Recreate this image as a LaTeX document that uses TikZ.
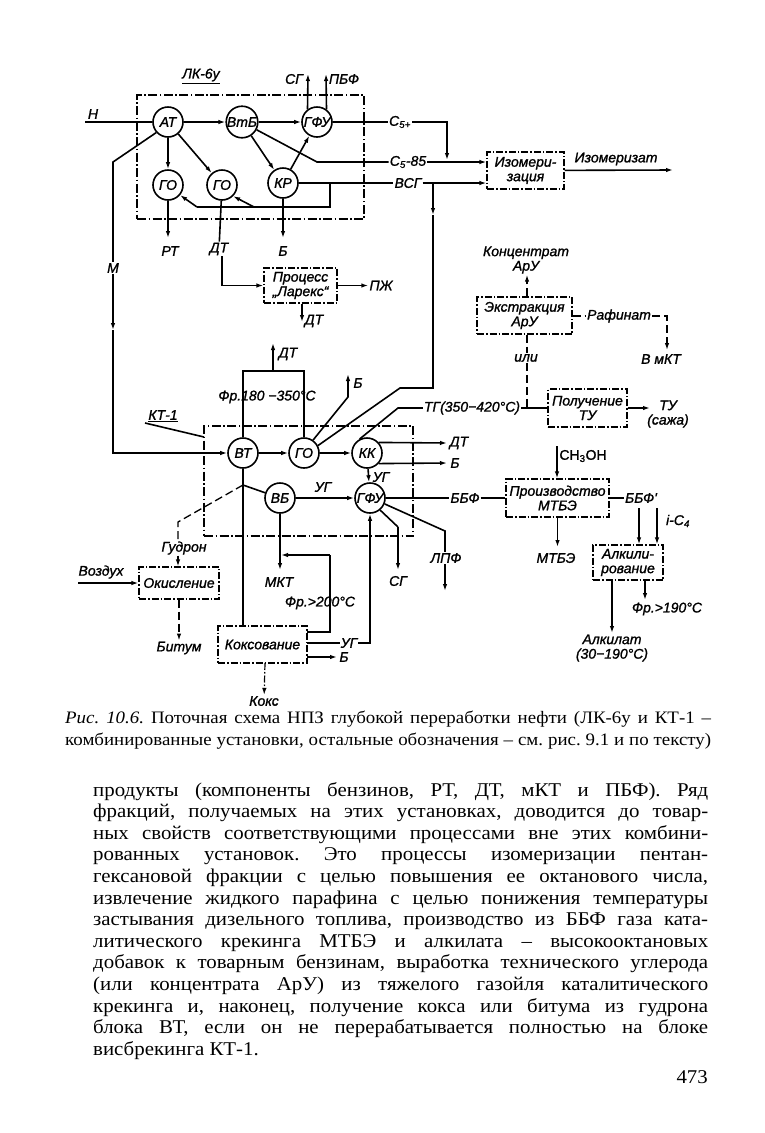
\documentclass[tikz,border=0pt]{standalone}
\usepackage{fontspec}
\setmainfont{Liberation Serif}
\newfontfamily\bodyface{Liberation Serif}[FakeStretch=1.07]
\newfontfamily\capface{Liberation Serif}[FakeStretch=1.08]
\newfontfamily\dfont{Liberation Sans}[FakeBold=1.2]
\usetikzlibrary{arrows.meta,calc}
\frenchspacing
\newcommand\dlbl{\dfont\itshape\fontsize{14}{14.5}\selectfont}
\newcommand\bodyfont{\bodyface\fontsize{19.5}{21.6}\selectfont}
\newcommand\capfont{\capface\fontsize{17.5}{21}\selectfont}
\newcommand\bodyln[3]{\node[anchor=base west,inner sep=0pt] (#1) at (93,#2) {\bodyfont\makebox[615pt][s]{#3}};}
\begin{document}
\begin{tikzpicture}[x=1pt,y=-1pt,
 ln/.style={line width=1.6pt},
 arr/.style={line width=1.6pt,-{Latex[length=7pt,width=4.5pt]}},
 ddl/.style={line width=1.2pt,dash pattern=on 7pt off 2pt on 1.5pt off 2pt},
 dda/.style={ddl,-{Latex[length=7pt,width=4.5pt]}},
 dsh/.style={line width=1.3pt,dash pattern=on 8pt off 4pt},
 dsha/.style={dsh,-{Latex[length=7pt,width=4.5pt]}},
 unit/.style={circle,draw,line width=1.6pt,minimum size=30pt,inner sep=0pt,font=\dlbl},
 proc/.style={draw,ddl,inner sep=1pt,align=center,font=\dlbl},
 bigframe/.style={draw,line width=1.2pt,dash pattern=on 9pt off 2.5pt on 1.5pt off 2.5pt,inner sep=0pt},
 lbl/.style={font=\dlbl,inner sep=1pt,align=center}]
\fill[white] (0,0) rectangle (764,1133);
\useasboundingbox (0,0) rectangle (764,1133);

% ---------- frames
\node[bigframe,minimum width=227pt,minimum height=124pt] (LK) at (250.5,157) {};
\node[bigframe,minimum width=209pt,minimum height=110pt] (KT) at (308.5,481) {};

% ---------- units
\node[unit] (AT) at (168,122) {АТ};
\node[unit] (VtB) at (242,122) {ВтБ};
\node[unit] (GFUa) at (317,122) {ГФУ};
\node[unit] (GOa) at (168,185) {ГО};
\node[unit] (GOb) at (222,185) {ГО};
\node[unit] (KR) at (283,183) {КР};
\node[unit] (VT) at (243,453) {ВТ};
\node[unit] (GOc) at (304,453) {ГО};
\node[unit] (KK) at (367,453) {КК};
\node[unit] (VB) at (280,498) {ВБ};
\node[unit] (GFUb) at (370,498) {ГФУ};

% ---------- process boxes
\node[proc,minimum width=77pt,minimum height=37pt] (izo) at (525.5,170.5) {Изомери-\\зация};
\node[proc,minimum width=73pt,minimum height=35pt] (lar) at (300.5,285.5) {Процесс\\„Ларекс“};
\node[proc,minimum width=95pt,minimum height=37pt] (ext) at (524.5,315.5) {Экстракция\\АрУ};
\node[proc,minimum width=79pt,minimum height=38pt] (tu) at (587.5,408) {Получение\\ТУ};
\node[proc,minimum width=103pt,minimum height=38pt] (mtbe) at (557.5,498) {Производство\\МТБЭ};
\node[proc,minimum width=70pt,minimum height=35pt] (alk) at (628,562.5) {Алкили-\\рование};
\node[proc,minimum width=80pt,minimum height=32pt] (oxi) at (179,583) {Окисление};
\node[proc,minimum width=89pt,minimum height=37pt] (cok) at (262.5,644.5) {Коксование};

% ---------- labels
\node[lbl] (lkl) at (201,76) {\underline{ЛК-6у}};
\node[lbl] (nlbl) at (93,114) {Н};
\node[lbl] (sgl) at (294,79) {СГ};
\node[lbl] (pbfl) at (344,79) {ПБФ};
\node[lbl] (c5p) at (400,122) {C\textsubscript{5+}};
\node[lbl] (c85) at (408,162) {C\textsubscript{5}-85};
\node[lbl] (vsg) at (408,183) {ВСГ};
\node[lbl] (izol) at (616,159) {Изомеризат};
\node[lbl] (rt) at (170,251) {РТ};
\node[lbl] (dta) at (219,249) {ДТ};
\node[lbl] (bk) at (283,251) {Б};
\node[lbl] (ml) at (113,268) {М};
\node[lbl] (pzh) at (381,285.5) {ПЖ};
\node[lbl] (dtb) at (314,321) {ДТ};
\node[lbl] (dtul) at (288,354) {ДТ};
\node[lbl] (fr) at (267,397) {Фр.180 −350°С};
\node[lbl] (bgl) at (358,383) {Б};
\node[lbl] (ktl) at (163,416) {\underline{КТ-1}};
\node[lbl] (tg) at (472,408) {ТГ(350−420°С)};
\node[lbl] (konc) at (526,260) {Концентрат\\АрУ};
\node[lbl] (ili) at (526,358) {или};
\node[lbl] (raf) at (619,316) {Рафинат};
\node[lbl] (vmkt) at (661,359) {В мКТ};
\node[lbl] (tul) at (668,414) {ТУ\\(сажа)};
\node[lbl] (kkdl) at (459,443) {ДТ};
\node[lbl] (kkbl) at (455,463) {Б};
\node[lbl] (uga) at (381,477) {УГ};
\node[lbl] (ugb) at (323,487) {УГ};
\node[lbl] (bbf) at (465,498) {ББФ};
\node[lbl,font=\dfont\fontsize{14}{14.5}\selectfont] (chl) at (583,456) {СН\textsubscript{3}ОН};
\node[lbl] (bbfp) at (641,498) {ББФ'};
\node[lbl] (icl) at (678,521) {i-C\textsubscript{4}};
\node[lbl] (mtbel) at (556,558) {МТБЭ};
\node[lbl] (alkl) at (612,648) {Алкилат\\(30−190°С)};
\node[lbl] (f190) at (667,609) {Фр.>190°С};
\node[lbl] (sgbl) at (398,581) {СГ};
\node[lbl] (lpf) at (446,558) {ЛПФ};
\node[lbl] (gudron) at (184,548) {Гудрон};
\node[lbl] (vozd) at (101,572) {Воздух};
\node[lbl] (bitum) at (179,648) {Битум};
\node[lbl] (mkt) at (279,582) {МКТ};
\node[lbl] (f200) at (320,603) {Фр.>200°С};
\node[lbl] (ugc) at (349,643) {УГ};
\node[lbl] (cbl) at (344,657) {Б};
\node[lbl] (koks) at (264,701) {Кокс};

% ---------- coordinates
\coordinate (nin) at (85,122);
\coordinate (sgt) at (308,74);
\coordinate (pbt) at (326,74);
\coordinate (c5c) at (447,122);
\coordinate (c5e) at (447,160);
\coordinate (c85a) at (317,162);
\coordinate (vsgj) at (433,183);
\coordinate (vsgm) at (433,215);
\coordinate (vsgc) at (433,388);
\coordinate (vsgd) at (400,388);
\coordinate (rca) at (330,183);
\coordinate (rcb) at (330,207);
\coordinate (rcc) at (197,207);
\coordinate (rcd) at (254,207);
\coordinate (rte) at (168,238);
\coordinate (bke) at (283,238);
\coordinate (mb) at (113,162);
\coordinate (mm) at (113,330);
\coordinate (dtbe) at (302,322);
\coordinate (bra) at (243,371);
\coordinate (brb) at (304,371);
\coordinate (dtu0) at (273,371);
\coordinate (dtu) at (273,343);
\coordinate (bga) at (348,397);
\coordinate (bgb) at (348,374);
\coordinate (ktla) at (145,423);
\coordinate (ktlb) at (204,437);
\coordinate (tga) at (398,408);
\coordinate (tgj) at (527,408);
\coordinate (rafc) at (667,316);
\coordinate (rafe) at (667,350);
\coordinate (tue) at (650,408);
\coordinate (kkd) at (447,443);
\coordinate (kkb) at (447,463);
\coordinate (ch) at (557,446);
\coordinate (bpa) at (639,508);
\coordinate (ica) at (657,508);
\coordinate (mtbeo) at (557.5,547);
\coordinate (alka) at (612,580);
\coordinate (alke) at (612,633);
\coordinate (f190a) at (645,580);
\coordinate (f190e) at (645,600);
\coordinate (sgb1) at (398,527);
\coordinate (sgb2) at (398,570);
\coordinate (lpa) at (445,531);
\coordinate (lpe) at (445,591);
\coordinate (tj) at (243,485);
\coordinate (gda) at (178,522);
\coordinate (vza) at (78,583);
\coordinate (mkte) at (280,570);
\coordinate (f2a) at (307,632);
\coordinate (f2b) at (330,632);
\coordinate (f2c) at (330,555);
\coordinate (f2d) at (281,555);
\coordinate (uga1) at (307,643);
\coordinate (cba) at (307,657);
\coordinate (cbe) at (337,657);
\coordinate (koa) at (265,663);
\coordinate (izoe) at (673,170);

% ---------- LK-6u connectors
\draw[ln] (nin) -- (AT);
\draw[arr] (AT) -- (VtB);
\draw[arr] (VtB) -- (GFUa);
\draw[arr] (AT) -- (GOa);
\draw[arr] (AT) -- (GOb);
\draw[arr] (VtB) -- (KR);
\draw[arr] (KR) -- (GFUa);
\draw[arr] (GFUa.127) -- (sgt);
\draw[arr] (GFUa.53) -- (pbt);
\draw[ln] (GFUa) -- (c5p);
\draw[arr] (c5p) -- (c5c) -- (c5e);
\draw[ln] (VtB.-28) -- (c85a) -- (c85);
\draw[arr] (c85) -- (c85 -| izo.west);
\draw[ln] (KR) -- (vsg);
\draw[arr] (vsg) -- (vsg -| izo.west);
\draw[arr] (vsgj) -- (vsgm);
\draw[ln] (vsgm) -- (vsgc) -- (vsgd) -- (GOc.28);
\draw[ln] (rca) -- (rcb) -- (rcc);
\draw[arr] (rcc) -- (GOa.-40);
\draw[arr] (rcd) -- (GOb.-45);
\draw[arr] (GOa) -- (rte);
\draw[ln] (GOb) -- (dta);
\draw[arr] (dta.south -| GOb) |- (lar);
\draw[arr] (KR) -- (bke);
\draw[ln] (AT.222) -- (mb) -- (ml);
\draw[arr] (ml) -- (mm);
\draw[arr] (mm) |- (VT);
\draw[arr] (lar) -- (pzh);
\draw[arr] (lar.south -| dtbe) -- (dtbe);
\draw[arr] (izo) -- (izoe);

% ---------- KT-1 connectors
\draw[ln] (VT) -- (bra) -- (brb) -- (GOc);
\draw[arr] (dtu0) -- (dtu);
\draw[arr] (GOc.55) -- (bga) -- (bgb);
\draw[ln] (ktla) -- (ktlb);
\draw[arr] (VT) -- (GOc);
\draw[arr] (GOc) -- (KK);
\draw[ln] (KK.118) -- (tga) -- (tg);
\draw[ln] (tg) -- (tu);
\draw[dsh] (tgj |- ext.south) -- (tgj |- ili.north);
\draw[dsh] (tgj |- ili.south) -- (tgj);
\draw[dsha] (tgj |- ext.north) -- (tgj |- konc.south);
\draw[dsh] (ext.east |- raf) -- (raf);
\draw[dsha] (raf) -- (rafc) -- (rafe);
\draw[arr] (tu) -- (tue);
\draw[arr] (KK.42) -- (kkd);
\draw[arr] (KK.-42) -- (kkb);
\draw[arr] (KK) -- (GFUb);
\draw[arr] (VB) -- (GFUb);
\draw[ln] (GFUb) -- (bbf);
\draw[ln] (bbf) -- (mtbe);
\draw[arr] (ch) -- (ch |- mtbe.north);
\draw[ln] (mtbe) -- (bbfp);
\draw[arr] (bpa) -- (bpa |- alk.north);
\draw[arr] (ica) -- (ica |- alk.north);
\draw[arr] (mtbe) -- (mtbeo);
\draw[arr] (alka) -- (alke);
\draw[arr] (f190a) -- (f190e);
\draw[ln] (GFUb.-50) -- (sgb1);
\draw[arr] (sgb1) -- (sgb2);
\draw[ln] (GFUb.-22) -- (lpa) -- (lpa |- lpf.north);
\draw[arr] (lpa |- lpf.south) -- (lpe);
\draw[ln] (VT) -- (tj) -- (tj |- cok.north);
\draw[ln] (tj) -- (VB);
\draw[dsh] (tj) -- (gda) -- (gda |- gudron.north);
\draw[dsha] (gda |- gudron.south) -- (gda |- oxi.north);
\draw[arr] (vza) -- (oxi);
\draw[dsha] (oxi) -- (bitum);
\draw[arr] (VB) -- (mkte);
\draw[ln] (f2a) -- (f2b) -- (f2c);
\draw[arr] (f2c) -- (f2d);
\draw[ln] (uga1) -- (ugc);
\draw[arr] (ugc) -| (GFUb);
\draw[arr] (cba) -- (cbe);
\draw[dda] (koa) -- (koks);

% ---------- caption
\node[anchor=base west,inner sep=0pt] (cap1) at (65,723) {\capfont\makebox[646pt][s]{\textit{Рис. 10.6.} Поточная схема НПЗ глубокой переработки нефти (ЛК-6у и КТ-1 –}};
\node[anchor=base west,inner sep=0pt] (cap2) at (65,745) {\capfont\makebox[646pt][s]{комбинированные установки, остальные обозначения – см. рис. 9.1 и по тексту)}};

% ---------- body text
\bodyln{b1}{796}{продукты (компоненты бензинов, РТ, ДТ, мКТ и ПБФ). Ряд}
\bodyln{b2}{817.6}{фракций, получаемых на этих установках, доводится до товар-}
\bodyln{b3}{839.2}{ных свойств соответствующими процессами вне этих комбини-}
\bodyln{b4}{860.8}{рованных установок. Это процессы изомеризации пентан-}
\bodyln{b5}{882.4}{гексановой фракции с целью повышения ее октанового числа,}
\bodyln{b6}{904}{извлечение жидкого парафина с целью понижения температуры}
\bodyln{b7}{925.6}{застывания дизельного топлива, производство из ББФ газа ката-}
\bodyln{b8}{947.2}{литического крекинга МТБЭ и алкилата – высокооктановых}
\bodyln{b9}{968.8}{добавок к товарным бензинам, выработка технического углерода}
\bodyln{b10}{990.4}{(или концентрата АрУ) из тяжелого газойля каталитического}
\bodyln{b11}{1012}{крекинга и, наконец, получение кокса или битума из гудрона}
\bodyln{b12}{1033.6}{блока ВТ, если он не перерабатывается полностью на блоке}
\node[anchor=base west,inner sep=0pt] (b13) at (93,1055.2) {\bodyfont висбрекинга КТ-1.};
\node[anchor=base east,inner sep=0pt] (pg) at (708,1083) {\bodyfont 473};
\end{tikzpicture}
\end{document}
